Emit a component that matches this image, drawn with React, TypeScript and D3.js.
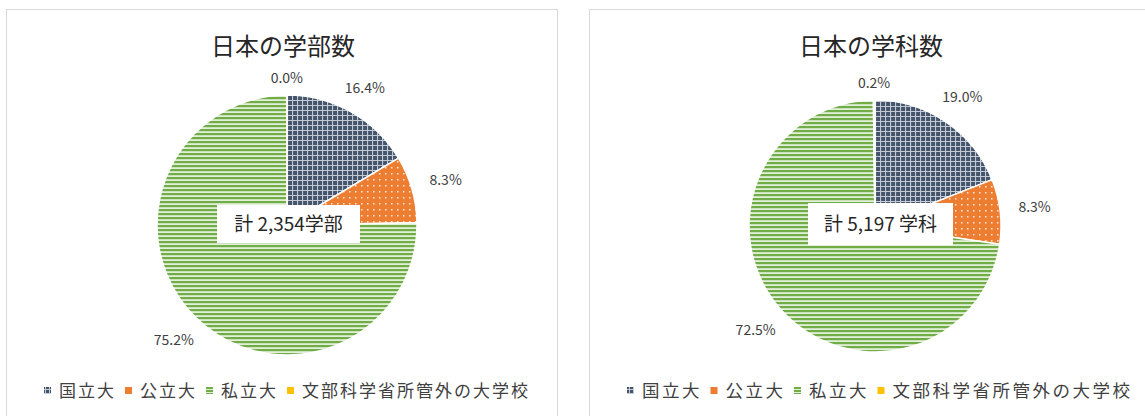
import React from "react";
import * as d3 from "d3";

const categories = ["国立大", "公立大", "私立大", "文部科学省所管外の大学校"];
const facultyShares = [16.4, 8.3, 75.2, 0.04];
const departmentShares = [19.0, 8.3, 72.5, 0.2];
const titles = ["日本の学部数", "日本の学科数"];
const totalLabels = ["計 2,354学部", "計 5,197 学科"];
const colors = ["#44546A", "#ED7D31", "#70AD47", "#FFC000"];
const patternIds = ["pGrid", "pDots", "pStripes", "pSolid"];

const FONT = "'Noto Sans CJK JP', 'Noto Sans', sans-serif";

type Panel = {
  x: number;
  width: number;
  cx: number;
  cy: number;
  r: number;
  values: number[];
  title: string;
  total: string;
  boxW: number;
  boxH: number;
  boxDx: number;
  boxDy: number;
  legendFs: number;
  legendLs: number;
  legendStart: number;
};

const panels: Panel[] = [
  {
    x: 6.5, width: 551, cx: 287, cy: 225, r: 130, values: facultyShares,
    title: titles[0], total: totalLabels[0], boxW: 143, boxH: 38, boxDx: -70, boxDy: -20,
    legendFs: 17, legendLs: 2, legendStart: 44,
  },
  {
    x: 589.5, width: 600, cx: 875, cy: 226, r: 126, values: departmentShares,
    title: titles[1], total: totalLabels[1], boxW: 145, boxH: 42, boxDx: -67, boxDy: -23,
    legendFs: 17.5, legendLs: 2.5, legendStart: 627,
  },
];

function PiePanel({ p }: { p: Panel }) {
  const pie = d3.pie<number>().sort(null).value((d) => d);
  const arcs = pie(p.values);
  const arc = d3.arc<d3.PieArcDatum<number>>().innerRadius(0).outerRadius(p.r);
  const fmt = d3.format(".1f");
  const hw = 24, hh = 7;

  const legendItems: { mx: number; tx: number; label: string }[] = [];
  let x = p.legendStart;
  categories.forEach((c) => {
    const tw = c.length * (p.legendFs + p.legendLs) - p.legendLs;
    legendItems.push({ mx: x, tx: x + 15, label: c });
    x += 15 + tw + 11;
  });

  return (
    <g>
      <rect x={p.x} y={9.5} width={p.width} height={420} fill="#fff" stroke="#d9d9d9" strokeWidth={1} />
      <text x={p.cx - 4} y={55} textAnchor="middle" fontFamily={FONT} fontSize={24} fill="#262626">
        {p.title}
      </text>
      <g transform={`translate(${p.cx},${p.cy})`}>
        {arcs.map((a, i) => (
          <path key={i} d={arc(a) || ""} fill={`url(#${patternIds[i]})`} stroke="#fff" strokeWidth={1.5} strokeLinejoin="round" />
        ))}
        {arcs.map((a, i) => {
          const ang = (a.startAngle + a.endAngle) / 2;
          const s = Math.sin(ang), c = Math.cos(ang);
          const ext = Math.abs(s) * hw + Math.abs(c) * hh;
          const rr = p.r + 10 + ext;
          return (
            <text key={"l" + i} x={s * rr} y={-c * rr} dy="0.35em" textAnchor="middle" fontFamily={FONT} fontSize={14} fill="#404040">
              {fmt(a.data)}%
            </text>
          );
        })}
        <rect x={p.boxDx} y={p.boxDy} width={p.boxW} height={p.boxH} fill="#fff" />
        <text x={p.boxDx + p.boxW / 2} y={p.boxDy + p.boxH / 2} dy="0.36em" textAnchor="middle" fontFamily={FONT} fontSize={19} fill="#262626">
          {p.total}
        </text>
      </g>
      {legendItems.map((it, i) => (
        <g key={"g" + i}>
          <rect x={it.mx} y={387} width={7} height={7} fill={`url(#${patternIds[i]}L)`} />
          <text x={it.tx} y={397} fontFamily={FONT} fontSize={p.legendFs} letterSpacing={p.legendLs} fill="#404040">
            {it.label}
          </text>
        </g>
      ))}
    </g>
  );
}

export default function App() {
  return (
    <svg width={1145} height={416} style={{ position: "absolute", left: 0, top: 0, background: "#fff" }}>
      <defs>
        <pattern id="pGrid" width={5} height={5} patternUnits="userSpaceOnUse">
          <rect width={5} height={5} fill={colors[0]} />
          <path d="M0 0.5H5M0.5 0V5" stroke="#c3cad6" strokeWidth={1.2} />
        </pattern>
        <pattern id="pDots" width={6} height={6} patternUnits="userSpaceOnUse">
          <rect width={6} height={6} fill={colors[1]} />
          <rect x={2} y={2} width={1.5} height={1.5} fill="#fde9dc" />
        </pattern>
        <pattern id="pStripes" width={4} height={4} patternUnits="userSpaceOnUse">
          <rect width={4} height={4} fill={colors[2]} />
          <rect y={2.2} width={4} height={1.8} fill="#e2f0d9" />
        </pattern>
        <pattern id="pSolid" width={4} height={4} patternUnits="userSpaceOnUse">
          <rect width={4} height={4} fill={colors[3]} />
        </pattern>
        <pattern id="pGridL" width={4} height={4} patternUnits="userSpaceOnUse">
          <rect width={4} height={4} fill={colors[0]} />
          <path d="M0 1.5H4M1.5 0V4" stroke="#c3cad6" strokeWidth={1} />
        </pattern>
        <pattern id="pDotsL" width={7} height={7} patternUnits="userSpaceOnUse">
          <rect width={7} height={7} fill={colors[1]} />
        </pattern>
        <pattern id="pStripesL" width={4} height={3} patternUnits="userSpaceOnUse">
          <rect width={4} height={3} fill={colors[2]} />
          <rect y={2} width={4} height={1} fill="#e2f0d9" />
        </pattern>
        <pattern id="pSolidL" width={4} height={4} patternUnits="userSpaceOnUse">
          <rect width={4} height={4} fill={colors[3]} />
        </pattern>
      </defs>
      {panels.map((p, i) => (
        <PiePanel key={i} p={p} />
      ))}
    </svg>
  );
}
